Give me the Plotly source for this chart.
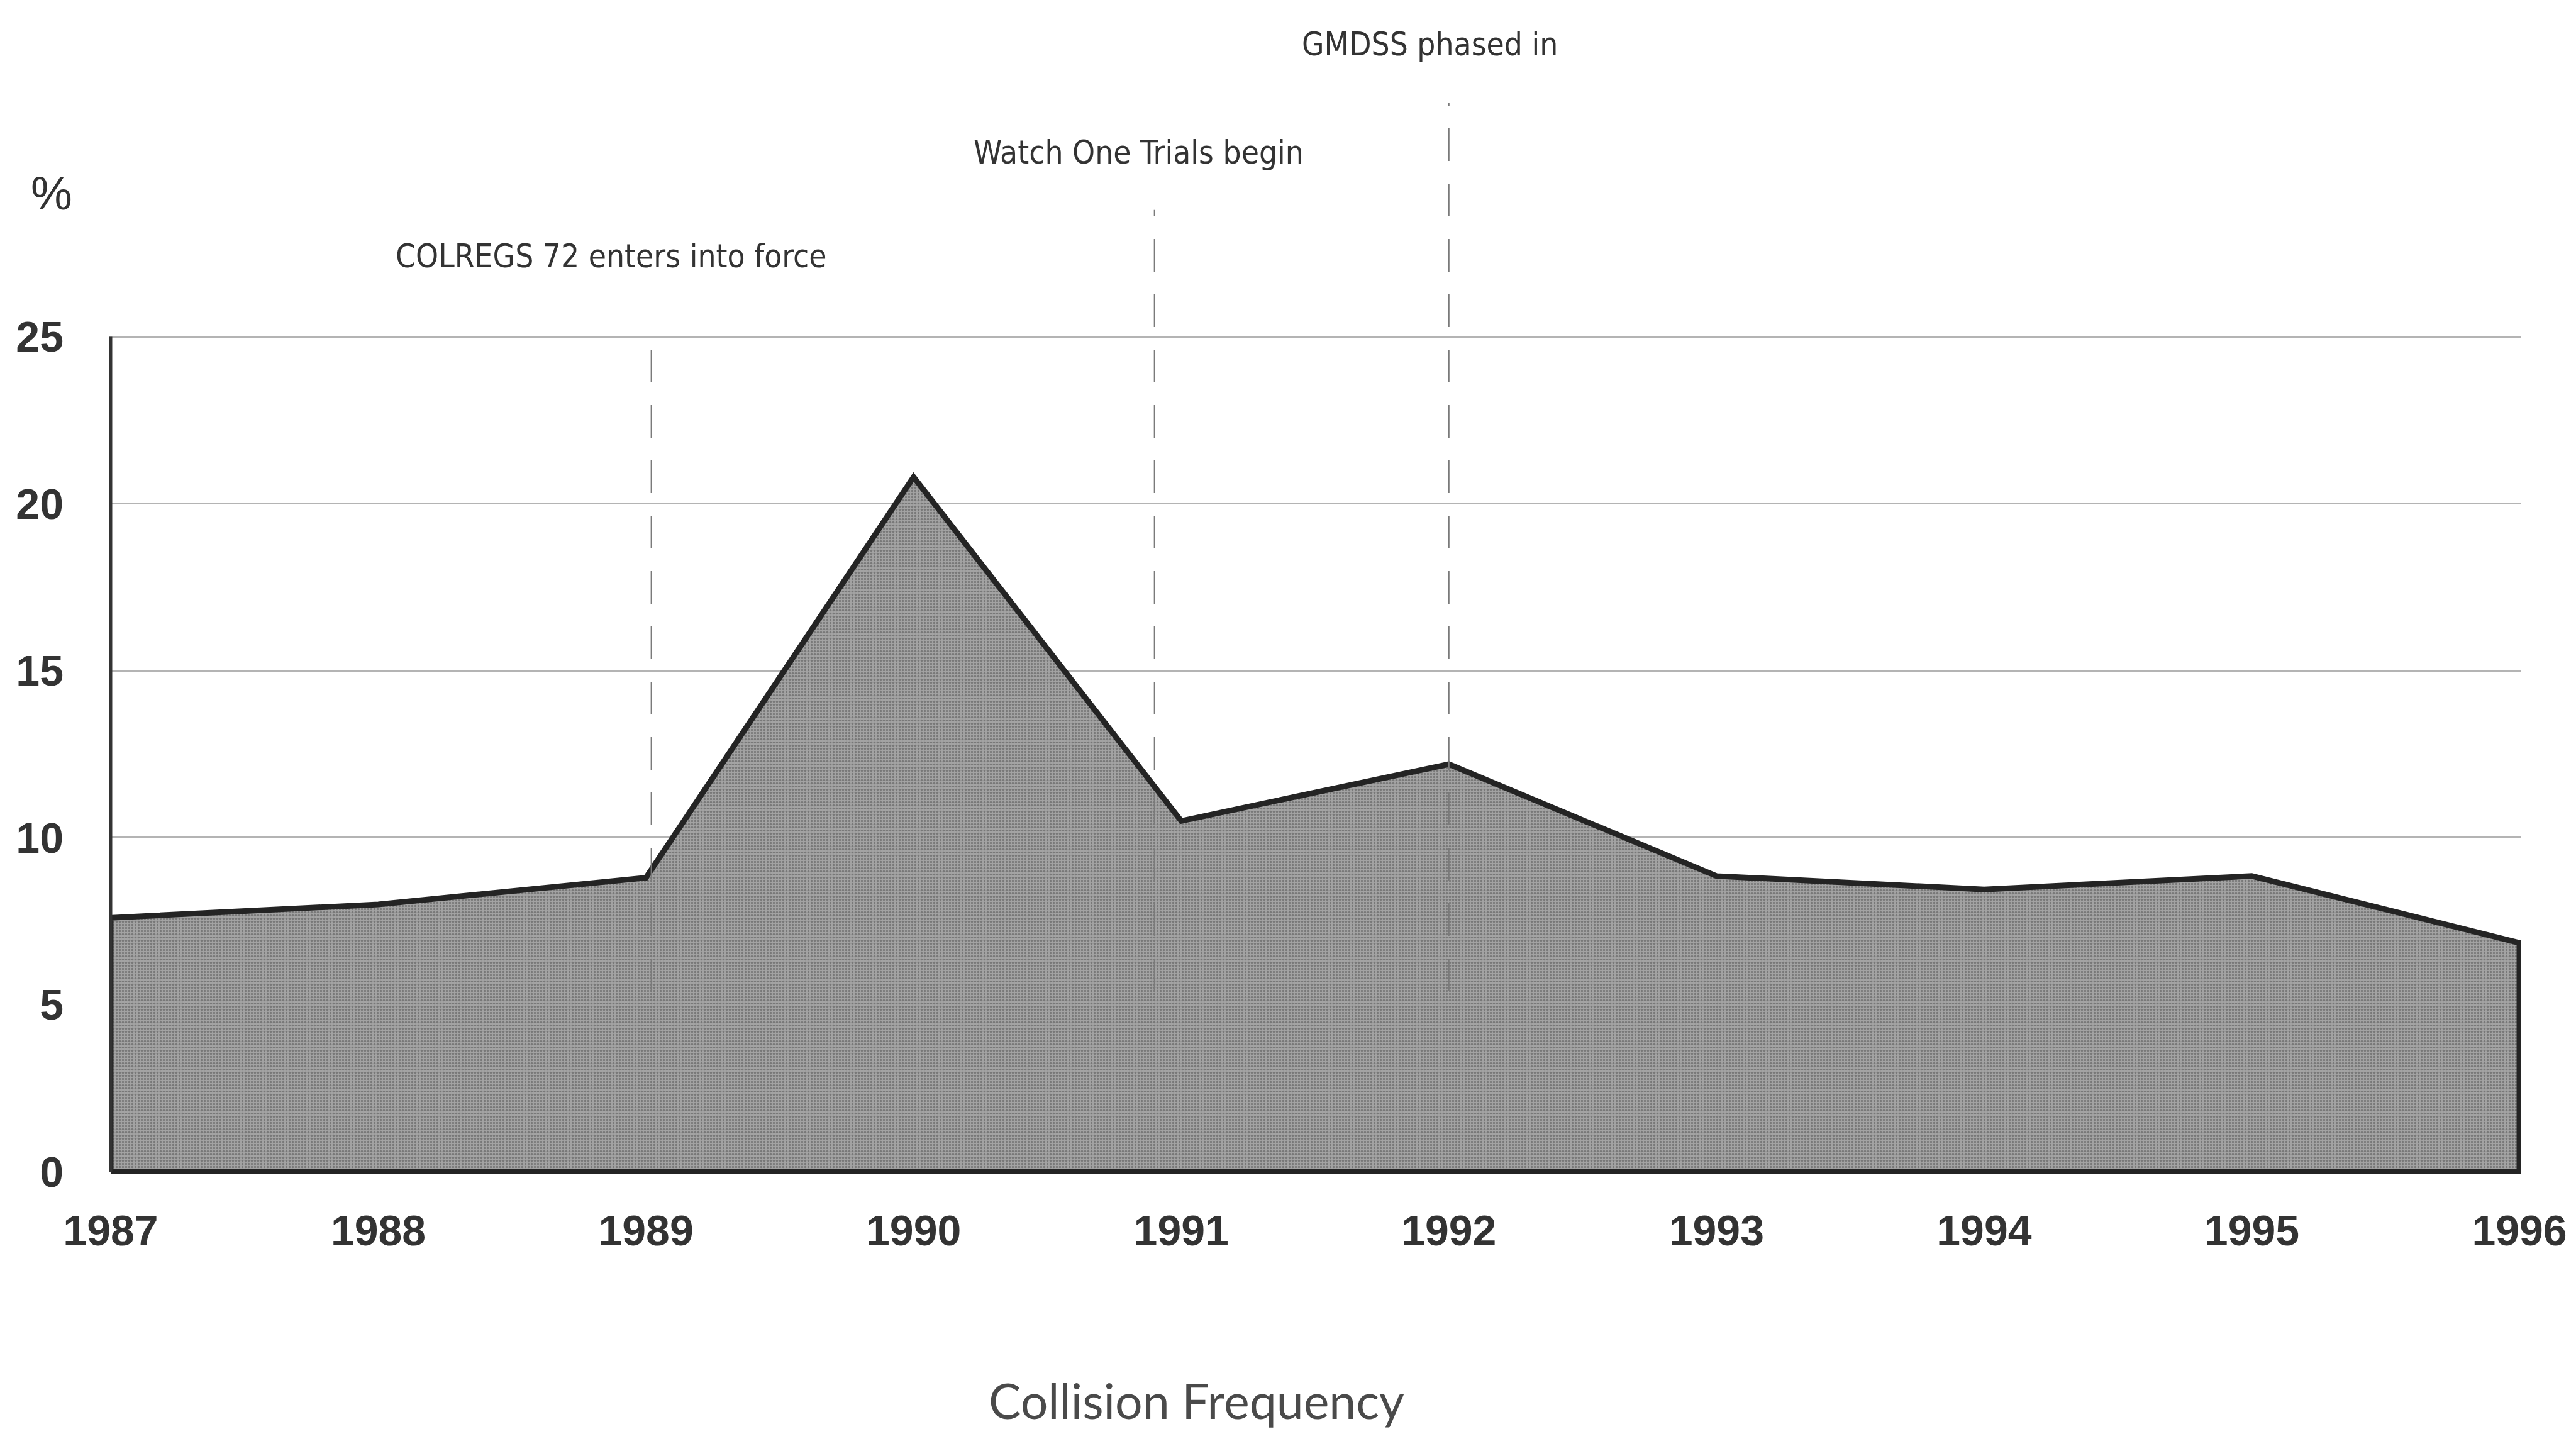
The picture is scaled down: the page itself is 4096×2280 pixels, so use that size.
import plotly.graph_objects as go

# ---- data ----
years = [1987, 1988, 1989, 1990, 1991, 1992, 1993, 1994, 1995, 1996]
collision_pct = [7.6, 8.0, 8.8, 20.8, 10.5, 12.2, 8.85, 8.45, 8.85, 6.85]
y_ticks = [0, 5, 10, 15, 20, 25]
event_labels = ["COLREGS 72 enters into force", "Watch One Trials begin", "GMDSS phased in"]
event_years = [1989.02, 1990.9, 1992.0]
event_line_top = [25, 28.8, 32.0]
event_label_x = [1988.87, 1990.84, 1991.93]
event_label_y = [27.41, 30.52, 33.76]

# ---- layout geometry (px) ----
W, H = 4096, 2280
L, R, T, B = 165, 95, 20, 421
plot_h = H - T - B
px_per_unit = 53.1
y_top = (H - B - 4 - T) / px_per_unit

fig = go.Figure()

poly_x = [years[0]] + years + [years[-1], years[0]]
poly_y = [0] + collision_pct + [0, 0]
fig.add_trace(go.Scatter(
    x=poly_x, y=poly_y, mode="lines", fill="toself",
    fillcolor="#999999",
    fillpattern=dict(shape=".", bgcolor="#a3a3a3", fgcolor="#787878",
                     size=5, solidity=0.4, fillmode="replace"),
    line=dict(color="#242424", width=9),
    hoverinfo="skip", showlegend=False,
))

shapes = [
    dict(type="line", xref="x", yref="y", x0=years[0], x1=years[0], y0=0, y1=25,
         line=dict(color="#333333", width=5), layer="above"),
]
for ex, et in zip(event_years, event_line_top):
    shapes.append(dict(type="line", xref="x", yref="y", x0=ex, x1=ex, y0=5.4, y1=et,
                       line=dict(color="#7a7a7a", width=2, dash="52px,36px"), layer="above"))

annotations = []
for lab, lx, ly in zip(event_labels, event_label_x, event_label_y):
    annotations.append(dict(
        text=lab, x=lx, y=ly, xref="x", yref="y", showarrow=False,
        xanchor="center", yanchor="middle",
        font=dict(family="Liberation Sans Narrow, DejaVu Sans Condensed, sans-serif",
                  size=51, color="#333333"),
    ))
annotations.append(dict(
    text="%", x=(74 - L) / (W - L - R), y=(1855 - 300) / px_per_unit,
    xref="paper", yref="y", showarrow=False, xanchor="center", yanchor="middle",
    font=dict(family="Liberation Sans, Arial, sans-serif", size=74, color="#333333"),
))
annotations.append(dict(
    text="Collision Frequency", x=(1894 - L) / (W - L - R), y=(H - B - 2218) / plot_h,
    xref="paper", yref="paper", showarrow=False, xanchor="center", yanchor="middle",
    font=dict(family="Lato, Open Sans, sans-serif", size=77, color="#4a4a4a"),
))

fig.update_layout(
    width=W, height=H,
    margin=dict(l=L, r=R, t=T, b=B),
    paper_bgcolor="white", plot_bgcolor="white",
    shapes=shapes, annotations=annotations,
    showlegend=False,
)
fig.update_xaxes(
    range=[1986.993, 1996.007], tickvals=years, ticktext=[str(y) for y in years],
    showgrid=False, zeroline=False, showline=False, ticks="",
    tickfont=dict(family="Liberation Sans, Arial, sans-serif", size=68,
                  color="#333333", weight="bold"),
    ticklabelstandoff=44,
)
fig.update_yaxes(
    range=[-0.08, y_top], tickvals=y_ticks, ticktext=[str(v) for v in y_ticks],
    showgrid=True, gridcolor="#b4b4b4", gridwidth=3,
    zeroline=False, showline=False, ticks="",
    tickfont=dict(family="Liberation Sans, Arial, sans-serif", size=68,
                  color="#333333", weight="bold"),
    ticklabelstandoff=71,
)

fig.write_html("out.html")
